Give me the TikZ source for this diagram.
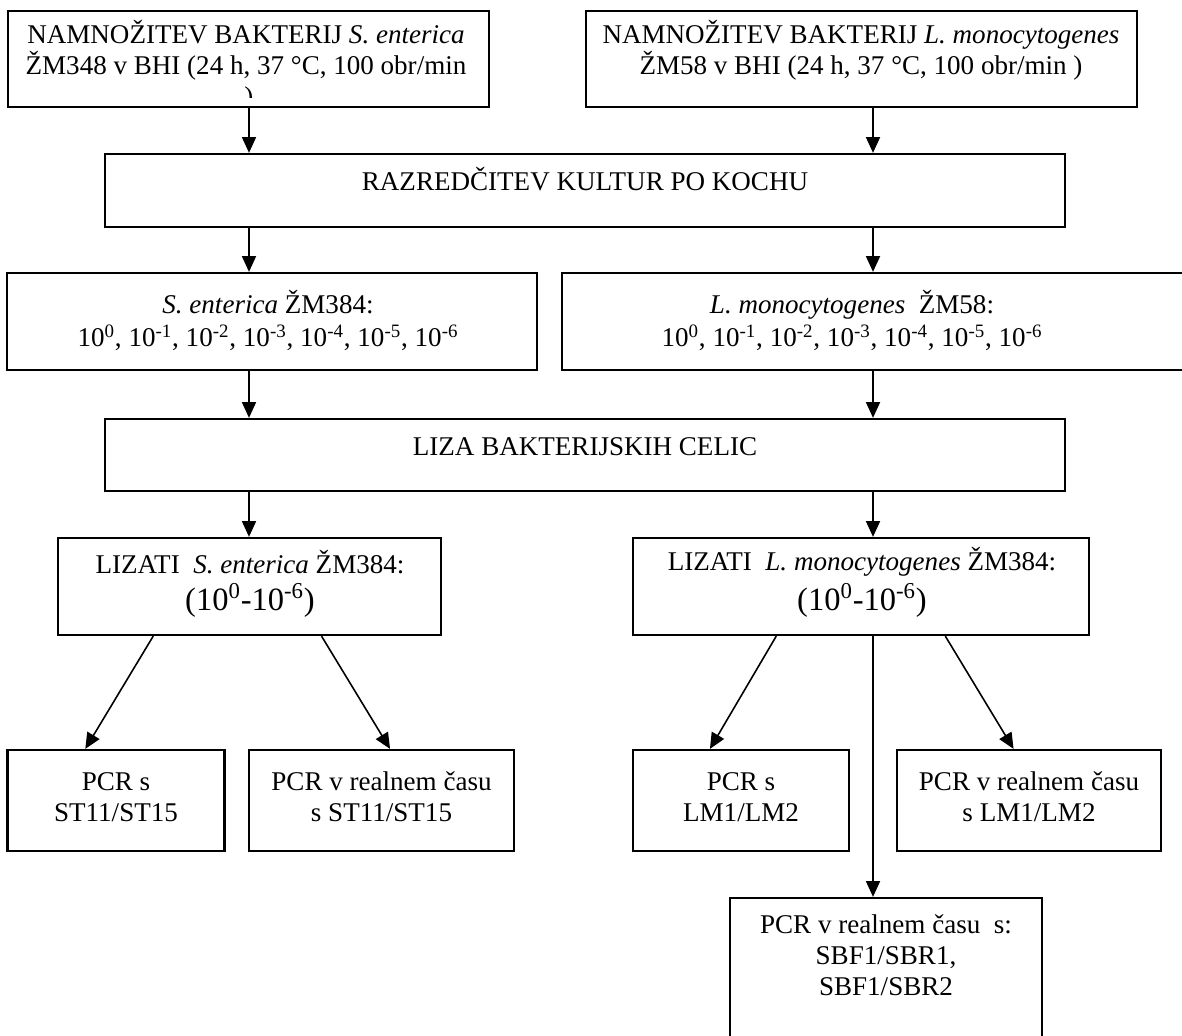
\documentclass[tikz,border=0pt]{standalone}
\usepackage{fontspec}
\setmainfont{Liberation Serif}
\usetikzlibrary{arrows.meta,calc,positioning}

\tikzset{
  box/.style={draw,line width=1.3pt,inner sep=0pt},
  txt/.style={align=center,inner sep=0pt,anchor=base,font=\fontsize{15.4}{17.6}\selectfont},
  arr/.style={-{Triangle[length=9pt,width=8pt]},line width=.9pt},
}
\newcommand{\bigrange}{{\fontsize{18.5}{22}\selectfont (10\textsuperscript{0}-10\textsuperscript{-6})}}
\newcommand{\dilrow}{10\textsuperscript{0}, 10\textsuperscript{-1}, 10\textsuperscript{-2}, 10\textsuperscript{-3}, 10\textsuperscript{-4}, 10\textsuperscript{-5}, 10\textsuperscript{-6}}

\begin{document}
\begin{tikzpicture}[x=0.02cm,y=-0.02cm]
  \useasboundingbox (0,0) rectangle (1182,1035);
  \clip (0,0) rectangle (1182,1035);

  % Column lines for the straight connectors.
  \coordinate (colL) at (249,0);
  \coordinate (colR) at (873,0);

  % Growth of both cultures (text anchored at its last baseline).
  \node[box,minimum width=9.62cm,minimum height=1.92cm] (grow1) at (248.5,59) {};
  \node[box,minimum width=11.02cm,minimum height=1.92cm] (grow2) at (861.5,59) {};
  \node[txt] (tgrow1) at (246,74.5) {NAMNOŽITEV BAKTERIJ \textit{S. enterica}\\ ŽM348 v BHI (24 h, 37 °C, 100 obr/min};
  \begin{scope}
    \clip (0,0) rectangle (1182,97);
    \node[txt] (tparen) at (249,105.5) {)};
  \end{scope}
  \node[txt] (tgrow2) at (861,74.5) {NAMNOŽITEV BAKTERIJ \textit{L. monocytogenes}\\ ŽM58 v BHI (24 h, 37 °C, 100 obr/min )};

  % Dilution.
  \node[box,minimum width=19.2cm,minimum height=1.46cm] (koch) at (585,190.5) {};
  \node[txt] (tkoch) at (585,190.7) {RAZREDČITEV KULTUR PO KOCHU};

  \node[box,minimum width=10.6cm,minimum height=1.94cm] (dil1) at (272,321.5) {};
  \node[box,minimum width=12.76cm,minimum height=1.94cm] (dil2) at (881,321.5) {};
  \node[txt] (tdil1) at (268,346.5) {\textit{S. enterica} ŽM384:\\[1pt] \dilrow};
  \node[txt] (tdil2) at (852,346.5) {\textit{L. monocytogenes}\ \ ŽM58:\\[1pt] \dilrow};

  % Lysis.
  \node[box,minimum width=19.2cm,minimum height=1.44cm] (lysis) at (585,455) {};
  \node[txt] (tlysis) at (585,455) {LIZA BAKTERIJSKIH CELIC};

  \node[box,minimum width=7.66cm,minimum height=1.94cm] (lys1) at (249.5,586.5) {};
  \node[box,minimum width=9.12cm,minimum height=1.94cm] (lys2) at (861,586.5) {};
  \node[txt] (tlys1) at (250,610) {LIZATI\ \ \textit{S. enterica} ŽM384:\\[3pt] \bigrange};
  \node[txt] (tlys2) at (862,610) {LIZATI\ \ \textit{L. monocytogenes} ŽM384:\\[3pt] \bigrange};

  % PCR boxes.
  \node[box,minimum width=4.34cm,minimum height=2.02cm] (pcr1) at (116,800.5) {};
  \node[box,minimum width=5.3cm,minimum height=2.02cm] (qpcr1) at (381.5,800.5) {};
  \node[box,minimum width=4.33cm,minimum height=2.02cm] (pcr2) at (741,800.5) {};
  \node[box,minimum width=5.28cm,minimum height=2.02cm] (qpcr2) at (1029,800.5) {};
  \node[box,minimum width=6.24cm,minimum height=2.94cm] (qpcr3) at (886,971.5) {};
  \node[txt] (tpcr1) at (116,821.7) {PCR s\\ ST11/ST15};
  \node[txt] (tqpcr1) at (381.5,821.7) {PCR v realnem času\\ s ST11/ST15};
  \node[txt] (tpcr2) at (741,821.7) {PCR s\\ LM1/LM2};
  \node[txt] (tqpcr2) at (1029,821.7) {PCR v realnem času\\ s LM1/LM2};
  \node[txt] (tqpcr3) at (886,995) {PCR v realnem času\ \ s:\\ SBF1/SBR1,\\ SBF1/SBR2};

  % Straight connectors.
  \draw[arr] (grow1.south -| colL) -- (koch.north -| colL);
  \draw[arr] (grow2.south -| colR) -- (koch.north -| colR);
  \draw[arr] (koch.south -| colL) -- (dil1.north -| colL);
  \draw[arr] (koch.south -| colR) -- (dil2.north -| colR);
  \draw[arr] (dil1.south -| colL) -- (lysis.north -| colL);
  \draw[arr] (dil2.south -| colR) -- (lysis.north -| colR);
  \draw[arr] (lysis.south -| colL) -- (lys1.north -| colL);
  \draw[arr] (lysis.south -| colR) -- (lys2.north -| colR);
  \draw[arr] (lys2.south -| colR) -- (qpcr3.north -| colR);

  % Slanted connectors.
  \draw[arr] ($(lys1.south west)!.25!(lys1.south east)$) -- ($(pcr1.north west)!.36!(pcr1.north east)$);
  \draw[arr] ($(lys1.south west)!.687!(lys1.south east)$) -- ($(qpcr1.north west)!.532!(qpcr1.north east)$);
  \draw[arr] ($(lys2.south west)!.315!(lys2.south east)$) -- ($(pcr2.north west)!.358!(pcr2.north east)$);
  \draw[arr] ($(lys2.south west)!.684!(lys2.south east)$) -- ($(qpcr2.north west)!.442!(qpcr2.north east)$);
\end{tikzpicture}
\end{document}
